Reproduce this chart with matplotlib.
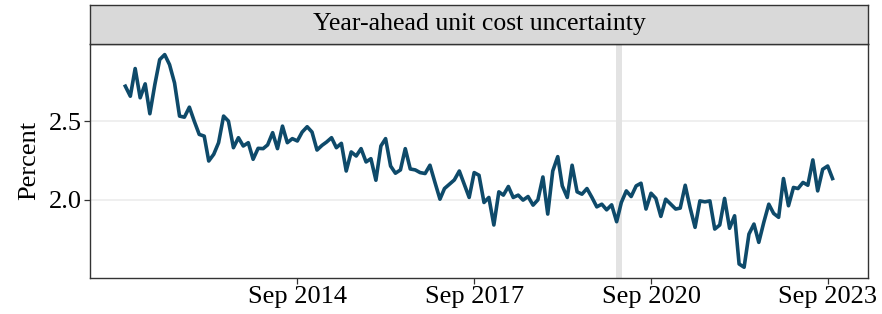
import numpy as np
import pandas as pd
import matplotlib
matplotlib.use("Agg")
import matplotlib.pyplot as plt
import matplotlib.dates as mdates

plt.rcParams['font.family'] = ['Liberation Serif', 'DejaVu Serif']

# monthly values, Oct 2011 - Oct 2023
start_month = "2011-10-01"
values = [
  2.725, 2.661, 2.838, 2.651, 2.740, 2.549, 2.736, 2.895, 2.927, 2.863,
  2.746, 2.534, 2.527, 2.591, 2.502, 2.417, 2.406, 2.247, 2.290, 2.364,
  2.534, 2.502, 2.332, 2.396, 2.343, 2.364, 2.258, 2.328, 2.326, 2.350,
  2.428, 2.326, 2.470, 2.364, 2.390, 2.375, 2.432, 2.466, 2.432, 2.317,
  2.347, 2.368, 2.396, 2.332, 2.360, 2.183, 2.305, 2.279, 2.326, 2.241,
  2.262, 2.124, 2.343, 2.390, 2.215, 2.169, 2.190, 2.326, 2.196,
  2.190, 2.173, 2.167, 2.220, 2.110, 2.003, 2.071, 2.099, 2.126, 2.183,
  2.099, 2.014, 2.173, 2.156, 1.982, 2.014, 1.838, 2.050, 2.029, 2.084,
  2.014, 2.029, 1.997, 2.020, 1.965, 1.999, 2.145, 1.908, 2.183, 2.275,
  2.088, 2.014, 2.220, 2.050, 2.035, 2.071, 2.014, 1.954, 1.971, 1.935,
  1.967, 1.859, 1.982, 2.056, 2.020, 2.088, 2.105, 1.940, 2.041, 2.008,
  1.893, 2.003, 1.971, 1.940, 1.946, 2.092, 1.950, 1.823,
  1.992, 1.986, 1.992, 1.812, 1.838, 2.008, 1.817, 1.897, 1.589, 1.568,
  1.780, 1.844, 1.727, 1.855, 1.971, 1.912, 1.887, 2.135, 1.961, 2.078,
  2.071, 2.110, 2.092, 2.254, 2.056, 2.194, 2.215, 2.135,
]
dates = pd.date_range(start_month, periods=len(values), freq="MS")

tick_dates = pd.to_datetime(["2014-09-01", "2017-09-01", "2020-09-01", "2023-09-01"])
tick_labels = ["Sep 2014", "Sep 2017", "Sep 2020", "Sep 2023"]
y_ticks = [2.0, 2.5]
band = pd.to_datetime(["2020-01-27", "2020-03-07"])
title = "Year-ahead unit cost uncertainty"

fig = plt.figure(figsize=(8.82, 3.14), dpi=100)
ax = fig.add_axes([0.102, 0.115, 0.882, 0.745])
strip = fig.add_axes([0.102, 0.860, 0.882, 0.124])

xn = mdates.date2num(dates)
pad = (xn[-1] - xn[0]) * 0.05
ax.set_xlim(xn[0] - pad, xn[-1] + pad)
ypad = (max(values) - min(values)) * 0.05
ax.set_ylim(min(values) - ypad, max(values) + ypad)

for y in y_ticks:
  ax.axhline(y, color="#EBEBEB", lw=1.1, zorder=0)
ax.axvspan(mdates.date2num(band[0]), mdates.date2num(band[1]), color="#E3E3E3", lw=0, zorder=1)
ax.plot(xn, values, color="#0E4A6A", lw=2.6, zorder=3, solid_joinstyle="round")

ax.set_xticks(mdates.date2num(tick_dates))
ax.set_xticklabels(tick_labels)
ax.set_yticks(y_ticks)
ax.set_yticklabels(["2.0", "2.5"])
ax.tick_params(axis="both", labelsize=19, length=4, width=0.9, color="#333333", pad=2)
ax.set_ylabel("Percent", fontsize=19, labelpad=6)
for s in ax.spines.values():
  s.set_color("#333333")
  s.set_linewidth(1.0)

strip.set_facecolor("#D9D9D9")
strip.set_xticks([])
strip.set_yticks([])
for s in strip.spines.values():
  s.set_color("#333333")
  s.set_linewidth(1.0)
strip.text(0.5, 0.5, title, ha="center", va="center", fontsize=18.5, transform=strip.transAxes)

fig.savefig("out.png", dpi=100)
